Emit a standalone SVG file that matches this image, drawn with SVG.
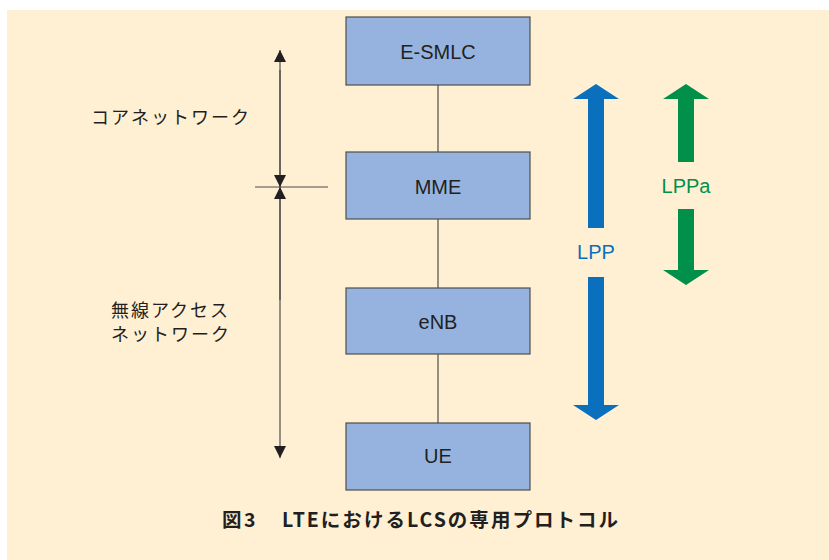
<svg xmlns="http://www.w3.org/2000/svg" width="829" height="560" viewBox="0 0 829 560">
<defs>
<style>
.box{fill:#95b3de;stroke:#4d4d4d;stroke-width:1.2}
.bt{font-family:"Liberation Sans",Arial,sans-serif;font-size:20px;fill:#231f20;text-anchor:middle}
.jt{font-family:"Noto Sans CJK JP","Liberation Sans",sans-serif;font-size:18px;letter-spacing:2px;fill:#231f20}
.ln{stroke:#4d4d4d;stroke-width:1.2;fill:none}
.pl{font-family:"Liberation Sans",Arial,sans-serif;font-size:20px;text-anchor:middle}
</style>
<marker id="ah" viewBox="0 0 10 10" refX="10" refY="5" markerWidth="12" markerHeight="13" markerUnits="userSpaceOnUse" orient="auto">
<path d="M0,0 L10,5 L0,10 Z" fill="#231f20"/>
</marker>
</defs>
<rect x="7" y="10" width="822" height="550" fill="#fff0d4"/>
<g id="connectors">
<line class="ln" x1="438" y1="85" x2="438" y2="152"/>
<line class="ln" x1="438" y1="219" x2="438" y2="288"/>
<line class="ln" x1="438" y1="354" x2="438" y2="423"/>
<line class="ln" x1="280" y1="187" x2="280" y2="50" marker-end="url(#ah)"/>
<line class="ln" x1="280" y1="70" x2="280" y2="187" marker-end="url(#ah)"/>
<line class="ln" x1="280" y1="187" x2="280" y2="458" marker-end="url(#ah)"/>
<line class="ln" x1="280" y1="300" x2="280" y2="187" marker-end="url(#ah)"/>
<line class="ln" x1="255" y1="187" x2="328" y2="187"/>
</g>
<g id="esmlc"><rect class="box" x="346" y="17" width="184" height="68"/><text class="bt" x="438" y="59">E-SMLC</text></g>
<g id="mme"><rect class="box" x="346" y="152" width="184" height="67"/><text class="bt" x="438" y="194">MME</text></g>
<g id="enb"><rect class="box" x="346" y="288" width="184" height="66"/><text class="bt" x="438" y="329">eNB</text></g>
<g id="ue"><rect class="box" x="346" y="423" width="184" height="67"/><text class="bt" x="438" y="463">UE</text></g>
<g id="core-label"><text class="jt" x="91" y="124">コアネットワーク</text></g>
<g id="ran-label"><text class="jt" x="111" y="317">無線アクセス</text><text class="jt" x="111" y="341">ネットワーク</text></g>
<g id="lpp">
<path d="M596,84 L619,99 L604,99 L604,228 L588,228 L588,99 L573,99 Z" fill="#0a6fbd"/>
<path d="M596,420 L619,405 L604,405 L604,277 L588,277 L588,405 L573,405 Z" fill="#0a6fbd"/>
<text class="pl" x="596" y="259" fill="#0a6fbd">LPP</text>
</g>
<g id="lppa">
<path d="M686,84 L709,99 L694,99 L694,162 L678,162 L678,99 L663,99 Z" fill="#00904a"/>
<path d="M686,285 L709,270 L694,270 L694,209 L678,209 L678,270 L663,270 Z" fill="#00904a"/>
<text class="pl" x="686" y="193" fill="#00904a">LPPa</text>
</g>
<g font-family="'Noto Sans CJK JP','Liberation Sans',sans-serif" font-size="19.5" font-weight="bold" fill="#231f20">
<text x="222" y="527">図</text>
<text x="244" y="527">3</text>
<text x="282" y="527" textLength="336" lengthAdjust="spacing">LTEにおけるLCSの専用プロトコル</text>
</g>
</svg>
